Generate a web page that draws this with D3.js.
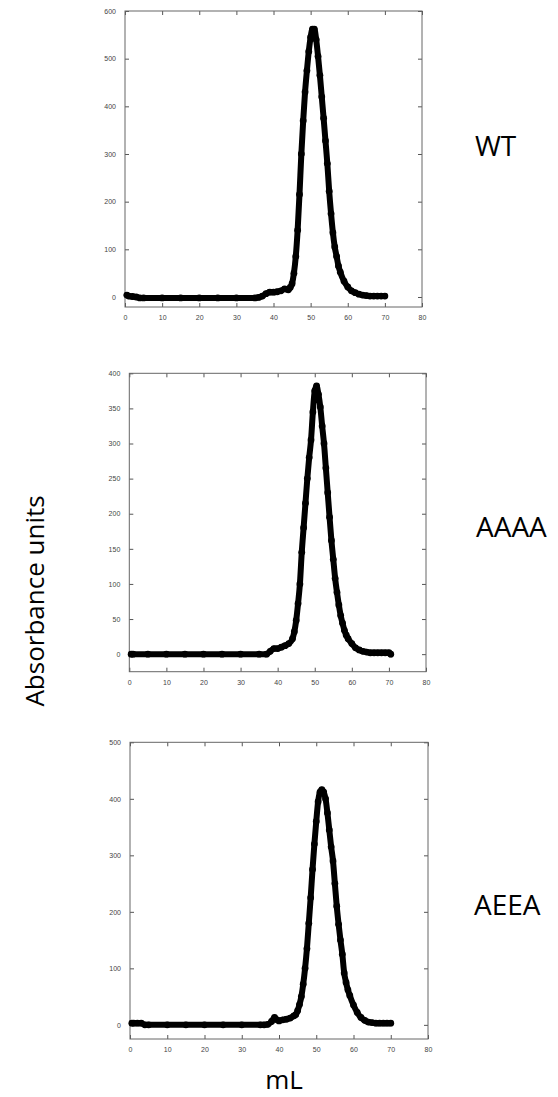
<!DOCTYPE html>
<html>
<head>
<meta charset="utf-8">
<script src="https://cdn.jsdelivr.net/npm/d3@7.9.0/dist/d3.min.js"></script>
<style>
  body { margin: 0; background: #fff; }
  svg { display: block; }
</style>
</head>
<body>
<svg id="chart" width="558" height="1097"></svg>
<script>
// elution volumes (mL) and absorbance
const wtMl  = [0.5,1,2,3,4,5,10,15,20,25,30,35,36,37,38,39,40,41,42,43,44,44.5,45,45.5,46,46.5,47,47.5,48,48.5,49,49.5,50,50.5,51,51.5,52,52.5,53,53.5,54,54.5,55,55.5,56,56.5,57,57.5,58,59,60,61,62,63,64,65,66,67,68,69,70];
const wtAbs = [4,2,1,0,-2,-2,-2,-2,-2,-2,-2,-2,-1,2,7,10,10,11,13,17,15,20,28,50,85,140,215,300,370,430,475,515,545,562,562,540,505,465,420,375,328,280,222,175,135,105,85,65,52,33,21,13,9,6,4,3,2,2,2,2,2];

const aaaaMl  = [0.5,1,5,10,15,20,25,30,35,37,38,39,40,41,42,43,44,44.5,45,45.5,46,46.5,47,47.5,48,48.5,49,49.5,50,50.5,51,51.5,52,52.5,53,53.5,54,54.5,55,55.5,56,56.5,57,57.5,58,58.5,59,60,61,62,63,64,65,66,67,68,69,70,70.5];
const aaaaAbs = [0,0,0,0,0,0,0,0,0,0,4,8,8,10,12,15,22,32,48,72,100,145,180,215,250,280,305,345,375,382,370,352,325,300,265,230,195,162,135,108,88,70,55,44,34,27,22,15,9,6,4,3,2,2,2,2,2,2,0];

const aeeaMl  = [0.5,1,2,3,4,5,10,15,20,25,30,35,36,37,38,38.8,39.5,40,41,42,43,44,44.5,45,45.5,46,46.5,47,47.5,48,48.5,49,49.5,50,50.5,51,51.5,52,52.5,53,53.5,54,54.5,55,55.5,56,56.5,57,57.5,58,58.5,59,60,61,62,63,64,65,66,67,68,69,70];
const aeeaAbs = [3,3,3,3,0,0,0,0,0,0,0,0,0,1,6,13,9,7,9,10,12,16,18,25,36,50,72,100,135,180,225,275,320,360,395,412,416,412,400,375,345,315,290,250,210,178,150,125,92,75,62,52,35,22,13,8,5,4,3,3,3,3,3];

const xTicks = [0,10,20,30,40,50,60,70,80];
const wtTicks = [0,100,200,300,400,500,600];
const aaaaTicks = [0,50,100,150,200,250,300,350,400];
const aeeaTicks = [0,100,200,300,400,500];

const panels = [
  { name: 'WT',   ml: wtMl,   abs: wtAbs,   yMin: -21, yMax: 600, ticks: wtTicks,   box: [125, 11, 422, 307],      label: [475, 156] },
  { name: 'AAAA', ml: aaaaMl, abs: aaaaAbs, yMin: -25, yMax: 400, ticks: aaaaTicks, box: [129.3, 373.3, 426, 671.7], label: [476, 537] },
  { name: 'AEEA', ml: aeeaMl, abs: aeeaAbs, yMin: -25, yMax: 500, ticks: aeeaTicks, box: [130, 742.3, 428, 1039],   label: [474, 915] }
];

const svg = d3.select('#chart');

panels.forEach((p) => {
  const [x0, y0, x1, y1] = p.box;
  const x = d3.scaleLinear().domain([0, 80]).range([x0, x1]);
  const y = d3.scaleLinear().domain([p.yMin, p.yMax]).range([y1, y0]);
  const g = svg.append('g');

  const tickLen = 4;
  // inward ticks on all four sides
  g.append('g').attr('transform', `translate(0,${y1})`)
    .call(d3.axisBottom(x).tickValues(xTicks).tickSize(-tickLen).tickPadding(8));
  g.append('g').attr('transform', `translate(0,${y0})`)
    .call(d3.axisTop(x).tickValues(xTicks).tickSize(-tickLen).tickFormat(''));
  g.append('g').attr('transform', `translate(${x0},0)`)
    .call(d3.axisLeft(y).tickValues(p.ticks).tickSize(-tickLen).tickPadding(9));
  g.append('g').attr('transform', `translate(${x1},0)`)
    .call(d3.axisRight(y).tickValues(p.ticks).tickSize(-tickLen).tickFormat(''));

  g.selectAll('.domain').remove();
  g.selectAll('.tick line').attr('stroke', '#555');
  g.selectAll('.tick text')
    .attr('fill', '#444')
    .style('font-family', '"Liberation Sans", Arial, sans-serif')
    .style('font-size', '7px');

  g.append('rect')
    .attr('x', x0).attr('y', y0)
    .attr('width', x1 - x0).attr('height', y1 - y0)
    .attr('fill', 'none').attr('stroke', '#666').attr('stroke-width', 1);

  const pts = p.ml.map((v, i) => [v, p.abs[i]]);
  const line = d3.line()
    .x((d) => x(d[0]))
    .y((d) => y(d[1]))
    .curve(d3.curveMonotoneX);

  g.append('path')
    .attr('d', line(pts))
    .attr('fill', 'none')
    .attr('stroke', '#000')
    .attr('stroke-width', 6)
    .attr('stroke-linejoin', 'round')
    .attr('stroke-linecap', 'round');

  g.selectAll('circle.pt')
    .data(pts)
    .join('circle')
    .attr('class', 'pt')
    .attr('cx', (d) => x(d[0]))
    .attr('cy', (d) => y(d[1]))
    .attr('r', 3.4)
    .attr('fill', '#000');

  svg.append('text')
    .attr('x', p.label[0]).attr('y', p.label[1])
    .style('font-family', '"Open Sans", sans-serif')
    .style('font-size', '28px')
    .attr('fill', '#000')
    .text(p.name);
});

svg.append('text')
  .attr('transform', 'translate(44,601) rotate(-90)')
  .attr('text-anchor', 'middle')
  .style('font-family', '"Open Sans", sans-serif')
  .style('font-size', '26px')
  .text('Absorbance units');

svg.append('text')
  .attr('x', 284).attr('y', 1089)
  .attr('text-anchor', 'middle')
  .style('font-family', '"Open Sans", sans-serif')
  .style('font-size', '26px')
  .text('mL');
</script>
</body>
</html>
